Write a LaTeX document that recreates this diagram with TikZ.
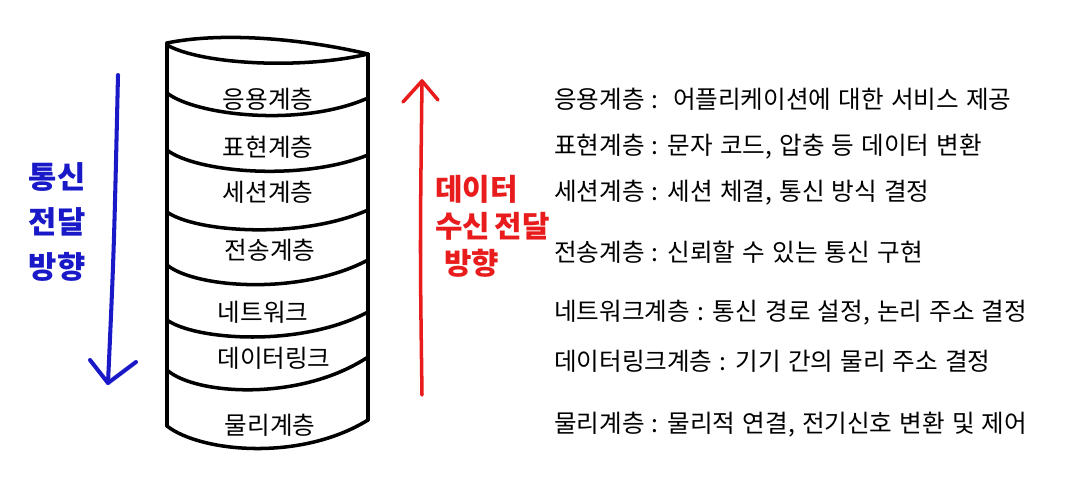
\documentclass[tikz,border=0pt]{standalone}
\usepackage{fontspec}
\setmainfont{Noto Sans CJK KR}[WordSpace=1.3]
\definecolor{sendblue}{RGB}{25,25,200}
\definecolor{recvred}{RGB}{232,28,28}
\begin{document}
\begin{tikzpicture}[x=0.02cm, y=-0.02cm, font=\fontsize{14}{16}\selectfont,
  wall/.style={line width=2pt, line cap=round, line join=round},
  hand/.style={font=\fontsize{17.5}{25.5}\selectfont\bfseries, inner sep=0pt}]
\useasboundingbox (0,0) rectangle (1080,500);
% cylinder
\draw[wall] (167,43) .. controls (220,32) and (300,38) .. (368,54);
\draw[wall] (167,45) .. controls (200,64) and (300,70) .. (368,54);
\draw[wall] (167,43) -- (167,426);
\draw[wall] (368,54) -- (368,420);
\draw[wall] (167,93) .. controls (195,115) and (300,128) .. (368,98);
\draw[wall] (167,150) .. controls (195,172) and (300,182) .. (368,155);
\draw[wall] (167,212) .. controls (195,232) and (300,240) .. (368,210);
\draw[wall] (167,265) .. controls (195,288) and (300,296) .. (368,260);
\draw[wall] (167,320) .. controls (195,340) and (300,348) .. (368,312);
\draw[wall] (167,370) .. controls (195,395) and (300,402) .. (368,357);
\draw[wall] (167,426) .. controls (200,452) and (300,462) .. (368,420);
% layers
\node (app) at (268,99) {응용계층};
\node (pres) at (268,147) {표현계층};
\node (sess) at (268,192) {세션계층};
\node (trans) at (270,250) {전송계층};
\node (net) at (263,312) {네트워크};
\node (link) at (274,358) {데이터링크};
\node (phys) at (270,425) {물리계층};
% descriptions
\node[anchor=west] (appdesc) at (548,99) {응용계층 :\ \ 어플리케이션에 대한 서비스 제공};
\node[anchor=west] (presdesc) at (548,147) {표현계층 : 문자 코드, 압충 등 데이터 변환};
\node[anchor=west] (sessdesc) at (548,193) {세션계층 : 세션 체결, 통신 방식 결정};
\node[anchor=west] (transdesc) at (548,252) {전송계층 : 신뢰할 수 있는 통신 구현};
\node[anchor=west] (netdesc) at (548,313) {네트워크계층 : 통신 경로 설정, 논리 주소 결정};
\node[anchor=west] (linkdesc) at (548,361) {데이터링크계층 : 기기 간의 물리 주소 결정};
\node[anchor=west] (physdesc) at (548,425) {물리계층 : 물리적 연결, 전기신호 변환 및 제어};
% sending direction
\coordinate (sendtop) at (118,75);
\coordinate (sendtip) at (108,383);
\draw[sendblue, line width=2.3pt, line cap=round] (sendtop) .. controls (114,250) .. (sendtip);
\draw[sendblue, line width=2.3pt, line cap=round, line join=round] (90,360) -- (sendtip) -- (136,362);
\node[hand, sendblue, align=center] (sendlabel) at (57,222) {통신\\전달\\방향};
% receiving direction
\coordinate (recvbot) at (422,395);
\coordinate (recvtip) at (422,81);
\draw[recvred, line width=2pt, line cap=round] (recvbot) .. controls (420,250) .. (recvtip);
\draw[recvred, line width=2pt, line cap=round, line join=round] (403,102) -- (recvtip) -- (438,100);
\node[hand, recvred, align=left, anchor=north west, font=\fontsize{17}{21}\selectfont\bfseries] (recvlabel) at (435,175) {데이터\\수신\hspace{0.15em}전달\\\hspace{0.3em}방향};
\end{tikzpicture}
\end{document}
